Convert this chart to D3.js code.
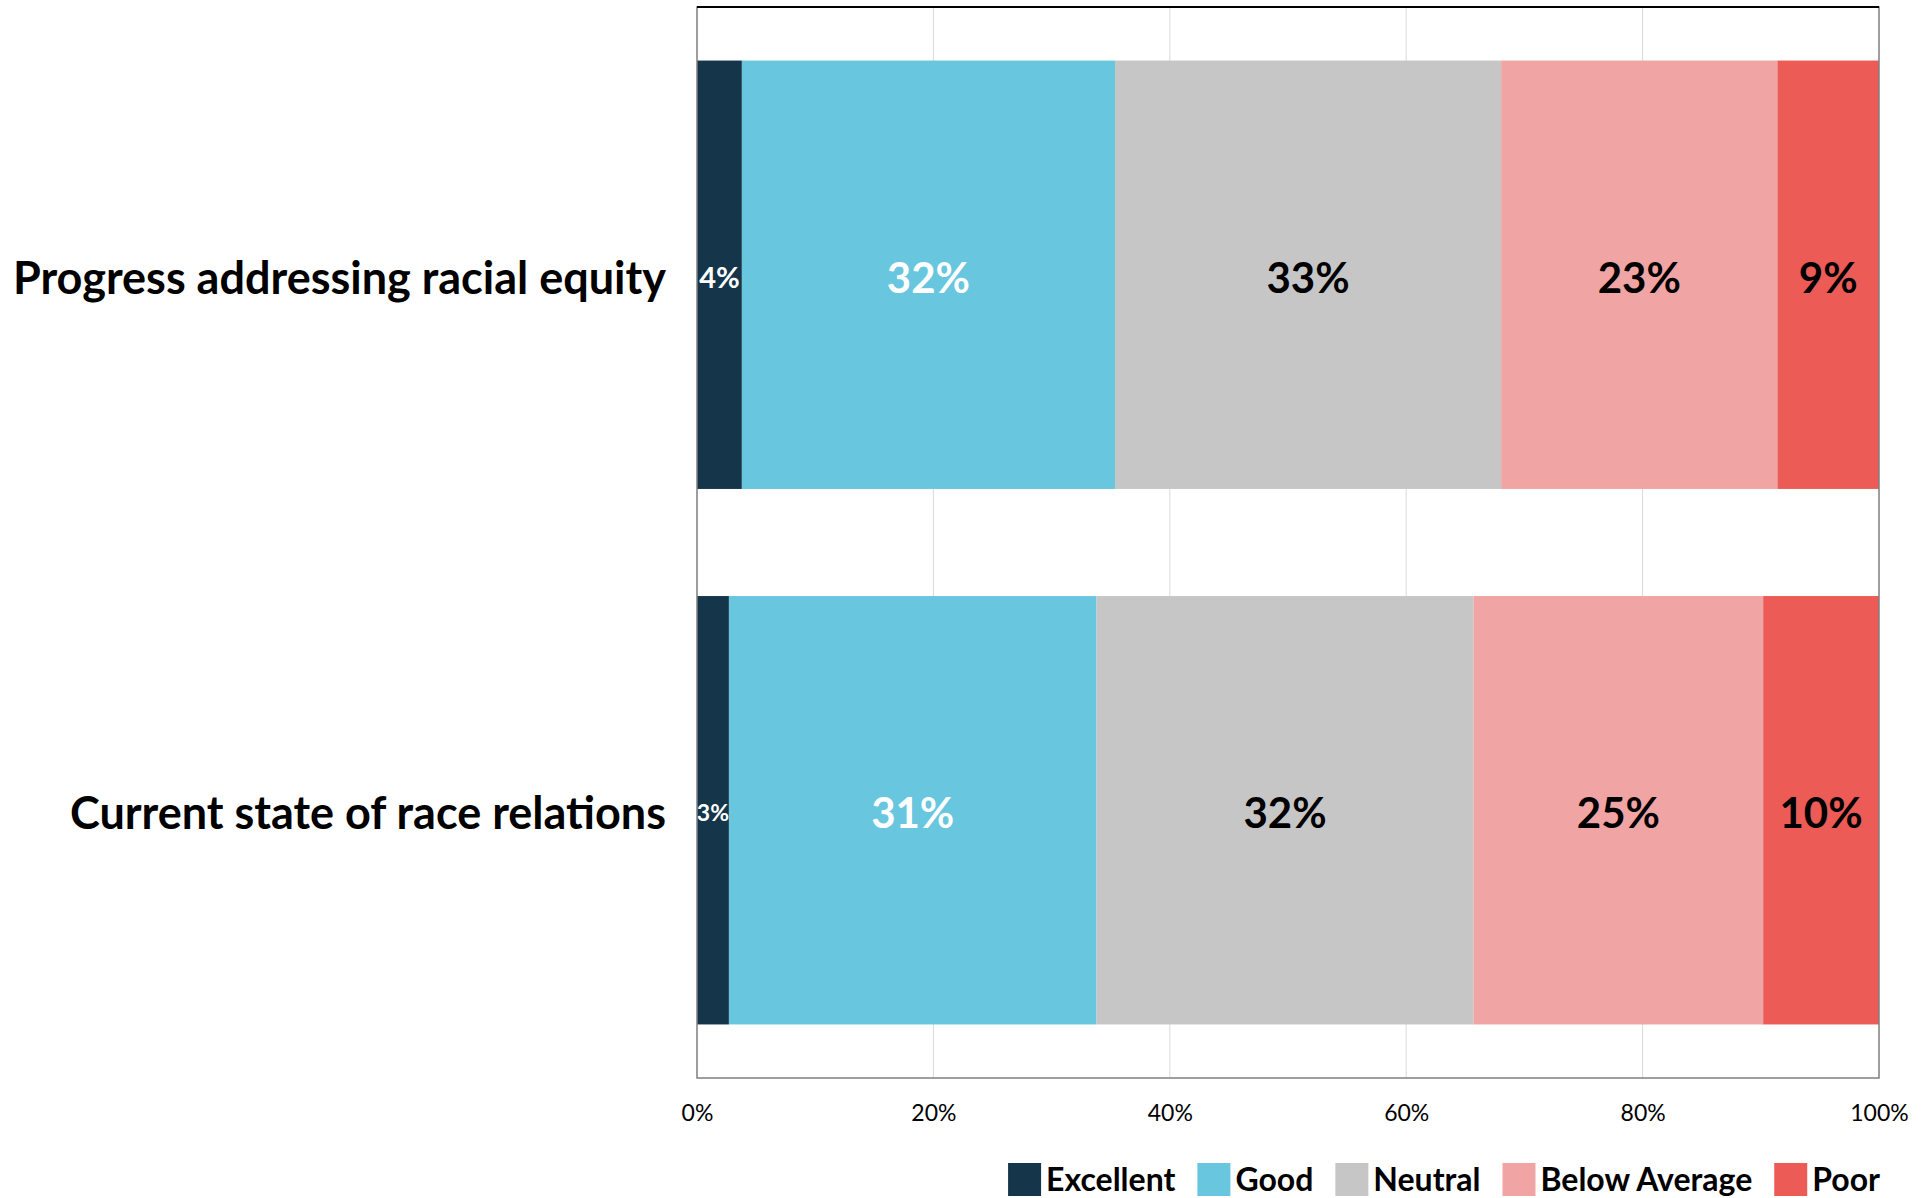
<!DOCTYPE html>
<html><head><meta charset="utf-8">
<script src="https://cdn.jsdelivr.net/npm/d3@7"></script>
<style>
html,body{margin:0;padding:0;background:#fff;}
svg{display:block;font-family:Lato, "Open Sans", sans-serif;}
</style></head>
<body>
<svg id="chart" width="1932" height="1198"></svg>
<script>
const categories = ["Progress addressing racial equity", "Current state of race relations"];
const seriesNames = ["Excellent", "Good", "Neutral", "Below Average", "Poor"];
const excellent = [3.8, 2.7];
const good = [31.6, 31.1];
const neutral = [32.7, 31.9];
const belowAverage = [23.4, 24.5];
const poor = [8.6, 9.8];
const tickValues = [0, 0.2, 0.4, 0.6, 0.8, 1.0];
const tickLabels = ["0%", "20%", "40%", "60%", "80%", "100%"];
const colors = ["#15354a", "#68c6df", "#c6c6c6", "#f0a4a4", "#ec5b56"];
const labelColors = ["#fff", "#fff", "#000", "#000", "#000"];

const seriesValues = [excellent, good, neutral, belowAverage, poor];
const rows = categories.map((c, i) => {
  const o = {category: c};
  const total = d3.sum(seriesValues, s => s[i]);
  seriesNames.forEach((n, k) => { o[n] = seriesValues[k][i] / total; o[n + "_raw"] = seriesValues[k][i]; });
  return o;
});

const svg = d3.select("#chart");
const L = 697, R = 1879, T = 7, B = 1078;

const x = d3.scaleLinear().domain([0, 1]).range([L, R]);
const y = d3.scaleBand().domain(categories).range([T, B]).paddingInner(0.2).paddingOuter(0.1);

// gridlines
svg.append("g").selectAll("line").data(tickValues.slice(1, -1)).join("line")
  .attr("x1", d => x(d)).attr("x2", d => x(d)).attr("y1", T).attr("y2", B)
  .attr("stroke", "#d9d9d9").attr("stroke-width", 1);

const stack = d3.stack().keys(seriesNames);
const stacked = stack(rows);

const g = svg.append("g");
stacked.forEach((layer, k) => {
  g.append("g").selectAll("rect").data(layer).join("rect")
    .attr("x", d => x(d[0])).attr("width", d => x(d[1]) - x(d[0]))
    .attr("y", d => y(d.data.category)).attr("height", y.bandwidth())
    .attr("fill", colors[k]);
});

// value labels
stacked.forEach((layer, k) => {
  g.append("g").selectAll("text").data(layer).join("text")
    .attr("x", d => (x(d[0]) + x(d[1])) / 2)
    .attr("y", d => y(d.data.category) + y.bandwidth() / 2 + 2)
    .attr("text-anchor", "middle").attr("dominant-baseline", "central")
    .attr("fill", labelColors[k]).attr("font-weight", 700)
    .attr("font-size", d => {
      const w = x(d[1]) - x(d[0]);
      return w < 40 ? 23 : (w < 60 ? 29 : 42);
    })
    .text(d => Math.round(d.data[seriesNames[k] + "_raw"]) + "%");
});

// plot border
svg.append("rect").attr("x", L).attr("y", T).attr("width", R - L).attr("height", B - T)
  .attr("fill", "none").attr("stroke", "#7f7f7f").attr("stroke-width", 1.5);
svg.append("line").attr("x1", L).attr("x2", R).attr("y1", T).attr("y2", T)
  .attr("stroke", "#000").attr("stroke-width", 2);

// x axis
const xAxis = d3.axisBottom(x).tickValues(tickValues).tickFormat((d, i) => tickLabels[i]).tickSize(0).tickPadding(0);
const ax = svg.append("g").attr("transform", `translate(0,${B})`).call(xAxis);
ax.select(".domain").remove();
ax.selectAll("text").attr("y", 35).attr("dy", "0.35em").attr("font-size", 23)
  .attr("font-family", "Lato, sans-serif").attr("fill", "#000");

// y axis labels
const yAxis = d3.axisLeft(y).tickSize(0).tickPadding(0);
const ay = svg.append("g").attr("transform", `translate(${L - 31},0)`).call(yAxis);
ay.select(".domain").remove();
ay.selectAll("text").attr("font-size", 45).attr("font-weight", 700)
  .attr("font-family", "Lato, sans-serif").attr("fill", "#000").attr("dy", "0.42em");

// legend
const legend = svg.append("g");
const items = [];
seriesNames.forEach((n, k) => {
  const it = legend.append("g");
  it.append("rect").attr("x", 0).attr("y", -16).attr("width", 33).attr("height", 33).attr("fill", colors[k]);
  const t = it.append("text").attr("x", 38).attr("y", 0).attr("dy", "0.37em")
    .attr("font-size", 32).attr("font-weight", 700).attr("fill", "#000").text(n);
  const w = 38 + t.node().getComputedTextLength();
  items.push({it, w});
});
const gap = 22;
const totalW = d3.sum(items, d => d.w) + gap * (items.length - 1);
let cx = 1880 - totalW;
items.forEach(d => { d.it.attr("transform", `translate(${cx},1179)`); cx += d.w + gap; });
</script>
</body></html>
